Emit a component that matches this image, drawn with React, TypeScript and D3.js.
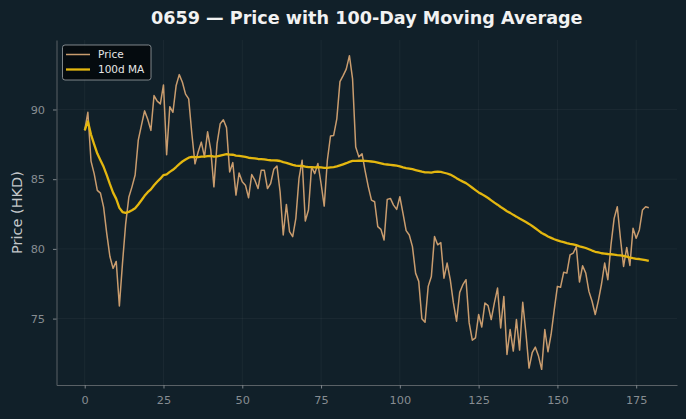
import React, { useEffect, useRef } from "react";
import * as d3 from "d3";

// daily closing prices, day 0..179
const days: number[] = Array.from({ length: 180 }, (_, i) => i);
const price: number[] = [
  88.5, 89.8, 86.3, 85.4, 84.2, 84.0, 83.0, 81.1, 79.45, 78.6,
  79.1, 75.9, 79.0, 81.8, 83.7, 84.45, 85.3, 87.8, 88.86, 89.9,
  89.3, 88.5, 91.0, 90.6, 90.4, 91.76, 86.76, 90.2, 89.8, 91.7,
  92.5, 91.95, 91.1, 90.76, 88.26, 86.1, 86.95, 87.66, 86.6, 88.4,
  87.1, 84.45, 87.55, 88.98, 89.26, 88.7, 85.52, 86.19, 83.86, 85.45,
  84.81, 84.57, 83.67, 85.33, 84.93, 84.33, 85.64, 85.64, 84.33, 84.69,
  85.71, 85.95, 84.1, 81.0, 83.19, 81.24, 80.88, 82.19, 85.05, 86.36,
  82.0, 82.79, 85.88, 85.4, 86.12, 84.69, 83.07, 86.36, 88.1, 88.14,
  89.33, 92.0, 92.43, 92.9, 93.86, 92.19, 87.31, 86.6, 86.83, 85.57,
  84.45, 83.5, 83.38, 81.6, 81.4, 80.64, 83.55, 83.62, 83.14, 82.83,
  83.74, 82.55, 81.31, 81.0, 80.16, 78.26, 77.67, 74.98, 74.74, 77.31,
  78.02, 80.88, 80.29, 80.45, 77.9, 78.98, 77.79, 76.12, 74.81, 76.88,
  77.43, 77.79, 74.69, 73.45, 73.62, 75.29, 74.4, 76.12, 75.93, 74.93,
  76.12, 77.19, 74.33, 76.59, 72.43, 74.21, 72.67, 74.93, 72.74, 76.17,
  73.98, 71.45, 72.55, 72.95, 72.31, 71.36, 74.21, 72.62, 73.86, 75.64,
  77.31, 77.25, 78.33, 78.26, 79.57, 79.69, 80.16, 77.62, 78.79, 78.26,
  76.95, 76.24, 75.29, 76.29, 77.48, 78.98, 77.79, 80.29, 82.19, 83.02,
  80.76, 78.74, 80.1, 78.81, 81.48, 80.76, 81.36, 82.79, 83.02, 82.95,
];

const maWindow = 100;
const xTicks: number[] = [0, 25, 50, 75, 100, 125, 150, 175];
const yTicks: number[] = [75, 80, 85, 90];

const W = 686;
const H = 419;
const margin = { top: 40, right: 9, bottom: 34, left: 56.5 };

const BG = "#112029";
const PRICE_COLOR = "#c99c6e";
const MA_COLOR = "#e4b70f";
const FONT = "'DejaVu Sans', sans-serif";

export default function App() {
  const ref = useRef<SVGSVGElement | null>(null);

  useEffect(() => {
    const svg = d3.select(ref.current);
    svg.selectAll("*").remove();

    // rolling mean, shorter window at the start
    const ma = price.map((_, i) =>
      d3.mean(price.slice(Math.max(0, i - maWindow + 1), i + 1)) as number
    );

    const xPad = (d3.max(days)! - d3.min(days)!) * 0.05;
    const x = d3
      .scaleLinear()
      .domain([d3.min(days)! - xPad, d3.max(days)! + xPad])
      .range([margin.left, W - margin.right]);

    const [lo, hi] = d3.extent(price) as [number, number];
    const yPad = (hi - lo) * 0.05;
    const y = d3
      .scaleLinear()
      .domain([lo - yPad, hi + yPad])
      .range([H - margin.bottom, margin.top]);

    svg.append("rect").attr("width", W).attr("height", H).attr("fill", BG);

    // faint grid
    const grid = svg.append("g").attr("stroke", "#ffffff").attr("stroke-opacity", 0.045);
    grid
      .selectAll("line.gx")
      .data(xTicks)
      .enter()
      .append("line")
      .attr("x1", (d) => x(d))
      .attr("x2", (d) => x(d))
      .attr("y1", margin.top)
      .attr("y2", H - margin.bottom);
    grid
      .selectAll("line.gy")
      .data(yTicks)
      .enter()
      .append("line")
      .attr("x1", margin.left)
      .attr("x2", W - margin.right)
      .attr("y1", (d) => y(d))
      .attr("y2", (d) => y(d));

    // axes
    const xAxis = svg
      .append("g")
      .attr("transform", `translate(0,${H - margin.bottom})`)
      .call(d3.axisBottom(x).tickValues(xTicks).tickSize(3.5).tickPadding(7).tickSizeOuter(0));
    const yAxis = svg
      .append("g")
      .attr("transform", `translate(${margin.left},0)`)
      .call(d3.axisLeft(y).tickValues(yTicks).tickSize(3.5).tickPadding(8).tickSizeOuter(0));

    [xAxis, yAxis].forEach((g) => {
      g.select(".domain").attr("stroke", "#5a6166").attr("stroke-width", 1);
      g.selectAll(".tick line").attr("stroke", "#7d8489");
      g.selectAll(".tick text")
        .attr("fill", "#878d92")
        .style("font-family", FONT)
        .style("font-size", "11.3px");
    });

    // lines
    const line = d3
      .line<number>()
      .x((_, i) => x(days[i]))
      .y((d) => y(d));

    svg
      .append("path")
      .datum(price)
      .attr("fill", "none")
      .attr("stroke", PRICE_COLOR)
      .attr("stroke-width", 1.5)
      .attr("stroke-linejoin", "round")
      .attr("d", line);

    svg
      .append("path")
      .datum(ma)
      .attr("fill", "none")
      .attr("stroke", MA_COLOR)
      .attr("stroke-width", 2.3)
      .attr("stroke-linejoin", "round")
      .attr("d", line);

    // title and y label
    svg
      .append("text")
      .attr("x", (margin.left + W - margin.right) / 2)
      .attr("y", 24)
      .attr("text-anchor", "middle")
      .attr("fill", "#f2f2f2")
      .style("font-family", FONT)
      .style("font-weight", "bold")
      .style("font-size", "17.6px")
      .text("0659 — Price with 100-Day Moving Average");

    svg
      .append("text")
      .attr("transform", `translate(22,${(margin.top + H - margin.bottom) / 2}) rotate(-90)`)
      .attr("text-anchor", "middle")
      .attr("fill", "#c3c7ca")
      .style("font-family", FONT)
      .style("font-size", "14.5px")
      .text("Price (HKD)");

    // legend
    const legend = svg.append("g").attr("transform", "translate(62.5,45)");
    legend
      .append("rect")
      .attr("width", 88.5)
      .attr("height", 35)
      .attr("rx", 2.5)
      .attr("fill", "#03080b")
      .attr("fill-opacity", 0.85)
      .attr("stroke", "#9ca2a6")
      .attr("stroke-width", 0.8);
    const items = [
      { label: "Price", color: PRICE_COLOR, w: 1.5 },
      { label: "100d MA", color: MA_COLOR, w: 2.3 },
    ];
    items.forEach((it, i) => {
      const cy = 9.5 + i * 15;
      legend
        .append("line")
        .attr("x1", 3.5)
        .attr("x2", 27.5)
        .attr("y1", cy)
        .attr("y2", cy)
        .attr("stroke", it.color)
        .attr("stroke-width", it.w);
      legend
        .append("text")
        .attr("x", 35.5)
        .attr("y", cy + 3.8)
        .attr("fill", "#e6e6e6")
        .style("font-family", FONT)
        .style("font-size", "10.5px")
        .text(it.label);
    });
  }, []);

  return (
    <div style={{ position: "absolute", left: 0, top: 0 }}>
      <svg ref={ref} width={W} height={H} style={{ display: "block" }} />
    </div>
  );
}
